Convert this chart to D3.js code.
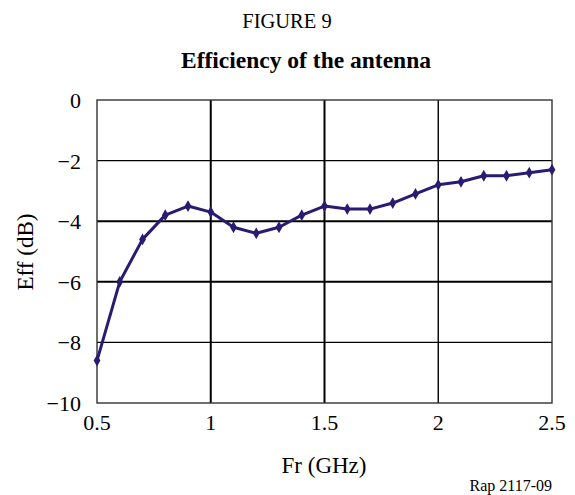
<!DOCTYPE html>
<html><head><meta charset="utf-8">
<script src="https://cdn.jsdelivr.net/npm/d3@7"></script>
<style>body{margin:0;background:#fff}svg{display:block}text{font-family:"Liberation Serif","Times New Roman",serif;fill:#000}</style>
</head><body>
<script>
const freq = [0.5,0.6,0.7,0.8,0.9,1.0,1.1,1.2,1.3,1.4,1.5,1.6,1.7,1.8,1.9,2.0,2.1,2.2,2.3,2.4,2.5];
const eff = [-8.6,-6.0,-4.6,-3.8,-3.5,-3.7,-4.2,-4.4,-4.2,-3.8,-3.5,-3.6,-3.6,-3.4,-3.1,-2.8,-2.7,-2.5,-2.5,-2.4,-2.3];
const xTicks = [0.5,1,1.5,2,2.5];
const yTicks = [0,-2,-4,-6,-8,-10];

const W=575,H=495;
const m={l:97,r:23,t:100,b:92};
const svg=d3.select("body").append("svg").attr("width",W).attr("height",H);
const x=d3.scaleLinear().domain([0.5,2.5]).range([m.l,W-m.r]);
const y=d3.scaleLinear().domain([-10,0]).range([H-m.b,m.t]);

svg.append("text").attr("x",287).attr("y",28).attr("text-anchor","middle").style("font-size","20.5px").text("FIGURE 9");
svg.append("text").attr("x",306).attr("y",68).attr("text-anchor","middle").style("font-size","23.5px").style("font-weight","bold").text("Efficiency of the antenna");

const g=svg.append("g");
g.selectAll(".hg").data(yTicks.filter(d=>d!==0&&d!==-10)).enter().append("line")
 .attr("x1",x(0.5)).attr("x2",x(2.5)).attr("y1",d=>y(d)).attr("y2",d=>y(d))
 .attr("stroke","#000").attr("stroke-width",d=>(d===-4||d===-6)?2:1.4);
g.selectAll(".vg").data(xTicks.filter(d=>d!==0.5&&d!==2.5)).enter().append("line")
 .attr("y1",y(0)).attr("y2",y(-10)).attr("x1",d=>x(d)).attr("x2",d=>x(d))
 .attr("stroke","#000").attr("stroke-width",d=>(d===2)?1.4:2);
g.append("rect").attr("x",x(0.5)).attr("y",y(0)).attr("width",x(2.5)-x(0.5)).attr("height",y(-10)-y(0))
 .attr("fill","none").attr("stroke","#333").attr("stroke-width",1.4);

const fmt=d=>d<0?"\u2212"+Math.abs(d):String(d);
svg.selectAll(".yl").data(yTicks).enter().append("text")
 .attr("x",81).attr("y",d=>y(d)+8).attr("text-anchor","end").style("font-size","22px").text(fmt);
svg.selectAll(".xl").data(xTicks).enter().append("text")
 .attr("x",d=>x(d)).attr("y",430).attr("text-anchor","middle").style("font-size","22px").text(d=>String(d));
svg.append("text").attr("x",324).attr("y",473).attr("text-anchor","middle").style("font-size","23px").text("Fr (GHz)");
svg.append("text").attr("transform","translate(33,252) rotate(-90)").attr("text-anchor","middle").style("font-size","23px").text("Eff (dB)");
svg.append("text").attr("x",552).attr("y",491).attr("text-anchor","end").style("font-size","16px").text("Rap 2117-09");

const data=freq.map((f,i)=>[f,eff[i]]);
const col="#2b1a72";
svg.append("path").datum(data).attr("fill","none").attr("stroke",col).attr("stroke-width",3)
 .attr("stroke-linejoin","round").attr("d",d3.line().x(d=>x(d[0])).y(d=>y(d[1])));
svg.selectAll(".pt").data(data).enter().append("path")
 .attr("transform",d=>`translate(${x(d[0])},${y(d[1])})`)
 .attr("d",d3.symbol(d3.symbolDiamond,40)()).attr("fill",col);
</script>
</body></html>
